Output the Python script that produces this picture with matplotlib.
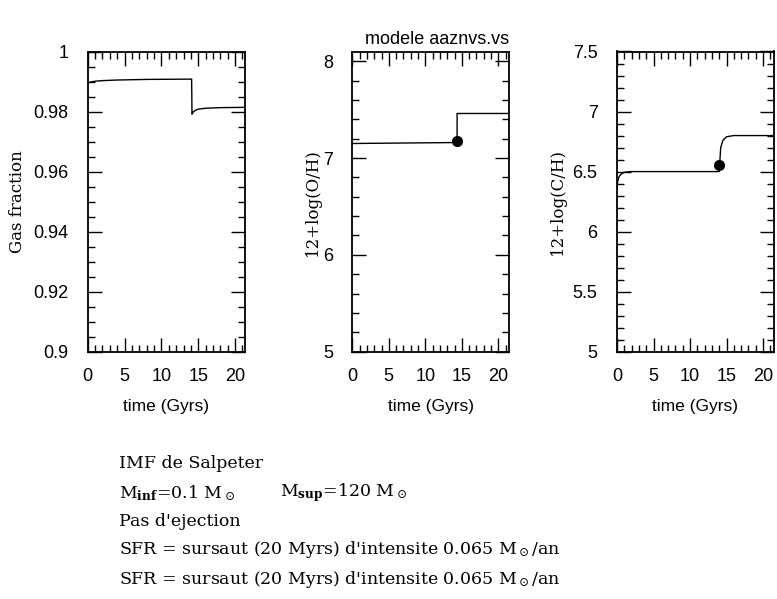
import numpy as np
import matplotlib
matplotlib.use('Agg')
import matplotlib.pyplot as plt
from matplotlib.ticker import MultipleLocator

plt.rcParams['mathtext.fontset'] = 'dejavuserif'
plt.rcParams['font.family'] = ['Liberation Sans', 'DejaVu Sans']

# fraction de gaz
t_gas = [0, 0.5, 1, 2, 4, 8, 14.1, 14.15, 14.3, 14.6, 15, 16, 18, 21.3]
gas = [0.9895, 0.9899, 0.9901, 0.9903, 0.9905, 0.9907, 0.9908, 0.9791, 0.9798, 0.9804, 0.9808, 0.9811, 0.9813, 0.9814]

# 12+log(O/H)
t_oh = [0, 14.35, 14.35, 21.5]
oh = [7.15, 7.16, 7.46, 7.46]
obs_oh = (14.3, 7.18)

# 12+log(C/H)
t_ch = [0, 0.1, 0.3, 0.6, 1, 2, 14.0, 14.05, 14.2, 14.5, 15, 16, 21.5]
ch = [6.36, 6.42, 6.46, 6.48, 6.495, 6.50, 6.50, 6.55, 6.70, 6.76, 6.79, 6.80, 6.80]
obs_ch = (14.0, 6.555)

fig = plt.figure(figsize=(7.77, 5.99), dpi=100)
W, H = 777, 599
lefts = [87.7, 352.3, 617.0]
width = 157
top, bottom = 51.5, 351.7

def panel(i):
    return fig.add_axes([lefts[i] / W, 1 - bottom / H, width / W, (bottom - top) / H])

ax1 = panel(0)
ax2 = panel(1)
ax3 = panel(2)

ax1.plot(t_gas, gas, color='black', lw=1)
ax1.set_ylim(0.9, 1.0)
ax1.set_yticks([0.9, 0.92, 0.94, 0.96, 0.98, 1.0], ['0.9', '0.92', '0.94', '0.96', '0.98', '1'])
ax1.yaxis.set_minor_locator(MultipleLocator(0.005))
ax1.set_xlim(0, 21.3)

ax2.plot(t_oh, oh, color='black', lw=1)
ax2.plot(*obs_oh, 'o', color='black', ms=7)
ax2.set_ylim(5, 8.1)
ax2.yaxis.set_major_locator(MultipleLocator(1))
ax2.yaxis.set_minor_locator(MultipleLocator(0.2))
ax2.set_xlim(0, 21.5)

ax3.plot(t_ch, ch, color='black', lw=1)
ax3.plot(*obs_ch, 'o', color='black', ms=7)
ax3.set_ylim(5, 7.5)
ax3.set_yticks([5, 5.5, 6, 6.5, 7, 7.5], ['5', '5.5', '6', '6.5', '7', '7.5'])
ax3.yaxis.set_minor_locator(MultipleLocator(0.1))
ax3.set_xlim(0, 21.5)

ylabels = ['Gas fraction', '12+log(O/H)', '12+log(C/H)']
label_x = [-70, -40, -60]
for ax, lab, lx in zip([ax1, ax2, ax3], ylabels, label_x):
    ax.xaxis.set_major_locator(MultipleLocator(5))
    ax.xaxis.set_minor_locator(MultipleLocator(1))
    ax.tick_params(which='both', direction='in', top=True, right=True,
                   labelsize=13, width=1)
    ax.tick_params(which='major', length=10)
    ax.tick_params(which='minor', length=5)
    ax.tick_params(axis='x', pad=12)
    ax.tick_params(axis='y', pad=14)
    for s in ax.spines.values():
        s.set_linewidth(1.3)
    ax.set_xlabel('time (Gyrs)', fontsize=12.5, labelpad=10)
    ax.set_ylabel(lab, family='DejaVu Serif', fontsize=12, va='center')
    ax.yaxis.set_label_coords(lx / width, 0.5)

fig.text(437 / W, 1 - 40 / H, 'modele aaznvs.vs', ha='center', va='center', fontsize=13)

lines = [
    'IMF de Salpeter',
    r'M$_{\mathbf{inf}}$=0.1 M$_\odot$',
    "Pas d'ejection",
    r"SFR = sursaut (20 Myrs) d'intensite 0.065 M$_\odot$/an",
    r"SFR = sursaut (20 Myrs) d'intensite 0.065 M$_\odot$/an",
]
ys = [464, 493, 521, 550, 579]
for s, y in zip(lines, ys):
    fig.text(119 / W, 1 - y / H, s, family='DejaVu Serif', fontsize=12.5, va='center', ha='left')
fig.text(280 / W, 1 - 493 / H, r'M$_{\mathbf{sup}}$=120 M$_\odot$', family='DejaVu Serif',
         fontsize=12.5, va='center', ha='left')

fig.savefig('out.png', dpi=100)
